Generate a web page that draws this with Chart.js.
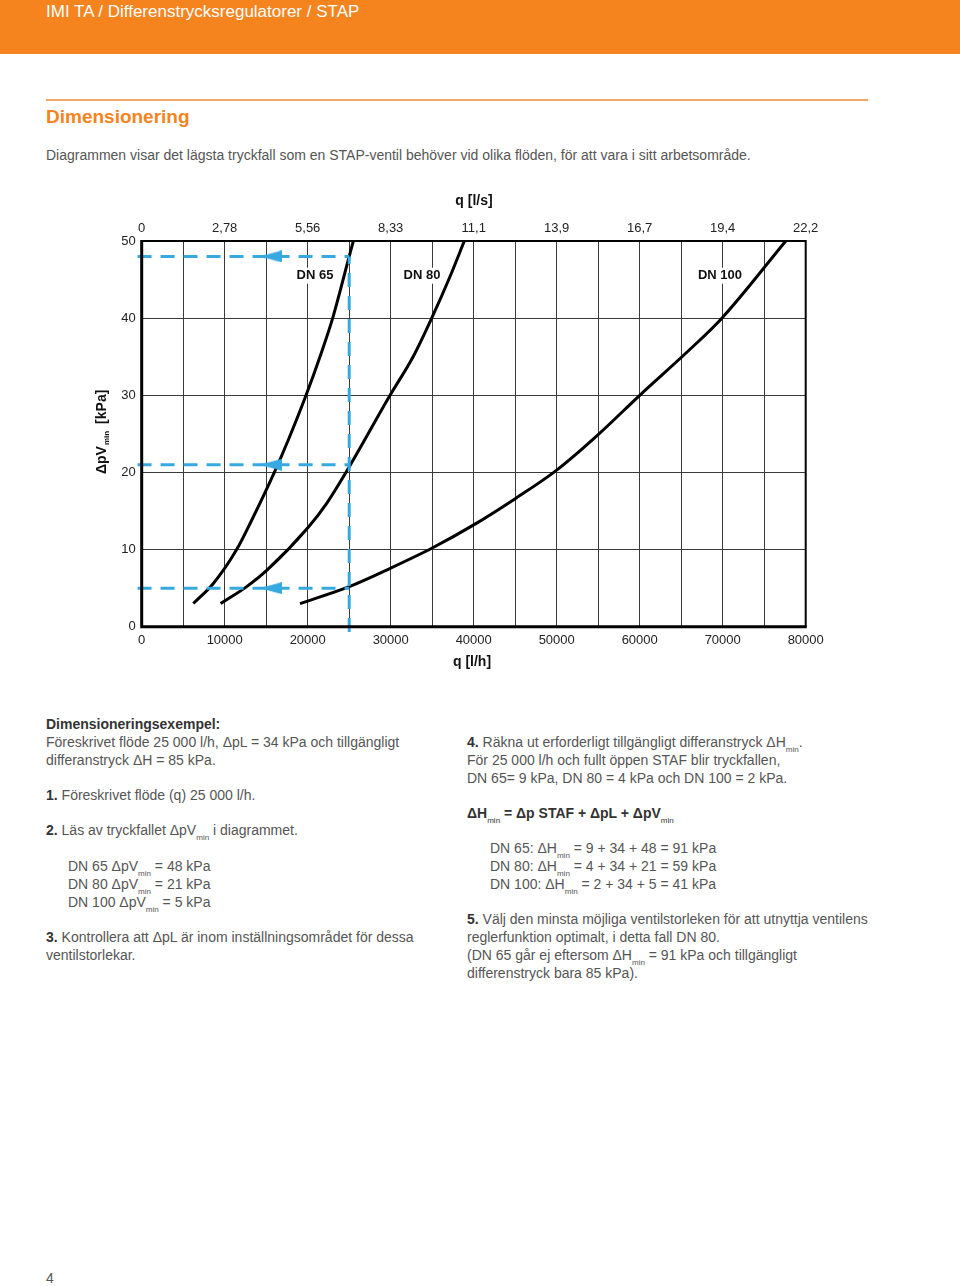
<!DOCTYPE html>
<html lang="sv">
<head>
<meta charset="utf-8">
<title>IMI TA / Differenstrycksregulatorer / STAP</title>
<script src="https://cdn.jsdelivr.net/npm/chart.js"></script>
<style>
  body { margin: 0; background: #fff; }
  #page { position: relative; width: 960px; height: 1286px; overflow: hidden; font-family: "Liberation Sans", Arial, sans-serif; color: #555; }
  #topbar { position: absolute; left: 0; top: 0; width: 960px; height: 54px; background: #f5841f; }
  #topbar span { position: absolute; left: 46px; top: 1px; font-size: 17px; color: #fff; line-height: 22px; }
  #rule { position: absolute; left: 46px; top: 99px; width: 822px; height: 2px; background: #f2a868; }
  #heading { position: absolute; left: 46px; top: 106px; font-size: 19px; font-weight: bold; color: #f5841f; line-height: 22px; }
  .ln { position: absolute; font-size: 14px; line-height: 18px; white-space: nowrap; }
  .ln b { color: #333; }
  .sub { font-size: 8px; position: relative; top: 5px; }
  #chartBox { position: absolute; left: 0; top: 170px; width: 960px; height: 520px; }
</style>
</head>
<body>
<div id="page">
  <div id="topbar"><span>IMI TA / Differenstrycksregulatorer / STAP</span></div>
  <div id="rule"></div>
  <div id="heading">Dimensionering</div>
  <div class="ln" style="left:46px;top:146px">Diagrammen visar det lägsta tryckfall som en STAP-ventil behöver vid olika flöden, för att vara i sitt arbetsområde.</div>

  <div id="chartBox"><canvas id="DpChart"></canvas></div>

  <div class="ln" style="left:46px;top:715px"><b>Dimensioneringsexempel:</b></div>
  <div class="ln" style="left:46px;top:733px">Föreskrivet flöde 25 000 l/h, ΔpL = 34 kPa och tillgängligt</div>
  <div class="ln" style="left:46px;top:751px">differanstryck ΔH = 85 kPa.</div>
  <div class="ln" style="left:46px;top:786px"><b>1.</b> Föreskrivet flöde (q) 25 000 l/h.</div>
  <div class="ln" style="left:46px;top:821px"><b>2.</b> Läs av tryckfallet ΔpV<span class="sub">min</span> i diagrammet.</div>
  <div class="ln" style="left:68px;top:857px">DN 65 ΔpV<span class="sub">min</span> = 48 kPa</div>
  <div class="ln" style="left:68px;top:875px">DN 80 ΔpV<span class="sub">min</span> = 21 kPa</div>
  <div class="ln" style="left:68px;top:893px">DN 100 ΔpV<span class="sub">min</span> = 5 kPa</div>
  <div class="ln" style="left:46px;top:928px"><b>3.</b> Kontrollera att ΔpL är inom inställningsområdet för dessa</div>
  <div class="ln" style="left:46px;top:946px">ventilstorlekar.</div>

  <div class="ln" style="left:467px;top:733px"><b>4.</b> Räkna ut erforderligt tillgängligt differanstryck ΔH<span class="sub">min</span>.</div>
  <div class="ln" style="left:467px;top:751px">För 25 000 l/h och fullt öppen STAF blir tryckfallen,</div>
  <div class="ln" style="left:467px;top:769px">DN 65= 9 kPa, DN 80 = 4 kPa och DN 100 = 2 kPa.</div>
  <div class="ln" style="left:467px;top:804px"><b>ΔH<span class="sub" style="font-weight:normal">min</span> = Δp STAF + ΔpL + ΔpV<span class="sub" style="font-weight:normal">min</span></b></div>
  <div class="ln" style="left:490px;top:839px">DN 65: ΔH<span class="sub">min</span> = 9 + 34 + 48 = 91 kPa</div>
  <div class="ln" style="left:490px;top:857px">DN 80: ΔH<span class="sub">min</span> = 4 + 34 + 21 = 59 kPa</div>
  <div class="ln" style="left:490px;top:875px">DN 100: ΔH<span class="sub">min</span> = 2 + 34 + 5 = 41 kPa</div>
  <div class="ln" style="left:467px;top:910px"><b>5.</b> Välj den minsta möjliga ventilstorleken för att utnyttja ventilens</div>
  <div class="ln" style="left:467px;top:928px">reglerfunktion optimalt, i detta fall DN 80.</div>
  <div class="ln" style="left:467px;top:946px">(DN 65 går ej eftersom ΔH<span class="sub">min</span> = 91 kPa och tillgängligt</div>
  <div class="ln" style="left:467px;top:964px">differenstryck bara 85 kPa).</div>

  <div class="ln" style="left:46px;top:1269px">4</div>
</div>

<script>
// flow q [l/h] and minimum pressure drop [kPa]
var dn65Q = [6220, 8630, 11440, 13250, 15980, 17660, 19800, 21480, 23010, 25000, 25500];
var dn65P = [3.0, 5.6, 10, 13.8, 20, 24.2, 30, 35, 40, 48, 50];
var dn80Q = [9510, 12650, 15060, 20070, 22290, 24610, 29920, 32700, 34940, 37150, 38870];
var dn80P = [3.0, 5.2, 7.3, 12.9, 16, 20, 30, 35, 40, 45.4, 50];
var dn100Q = [19070, 25000, 30000, 35000, 40000, 45000, 50000, 55000, 60000, 66000, 69900, 77600];
var dn100P = [3.0, 5.2, 7.6, 10.2, 13.2, 16.6, 20.3, 24.9, 30, 35.9, 40, 50];

// worked example: 25 000 l/h read across to each valve size
var exampleQ = 25000;
var exampleP = [48, 21, 5];
var arrowQ = 15560;

// tick labels
var lsLabels = ["0", "2,78", "5,56", "8,33", "11,1", "13,9", "16,7", "19,4", "22,2"];

// curve names and where they are written
var curveNames = ["DN 65", "DN 80", "DN 100"];
var nameQ = [20880, 33770, 69670];
var nameP = [45.5, 45.5, 45.5];

var blue = "#36a9e1";
var fontFam = '"Liberation Sans", Arial, sans-serif';

function toPoints(qs, ps) {
  var pts = [];
  for (var i = 0; i < qs.length; i++) {
    pts.push({ x: qs[i], y: ps[i] });
  }
  return pts;
}

// left pointing arrow head
var arrowImg = document.createElement("canvas");
arrowImg.width = 22;
arrowImg.height = 12;
var actx = arrowImg.getContext("2d");
actx.fillStyle = blue;
actx.beginPath();
actx.moveTo(0, 6);
actx.lineTo(22, 0);
actx.lineTo(22, 12);
actx.closePath();
actx.fill();

var datasets = [];

function curve(qs, ps) {
  return {
    data: toPoints(qs, ps),
    borderColor: "#000",
    borderWidth: 3,
    pointRadius: 0,
    cubicInterpolationMode: "monotone",
    order: 2,
  };
}

function dashed(pts) {
  return {
    data: pts,
    borderColor: blue,
    borderWidth: 3,
    borderDash: [14, 9],
    pointRadius: 0,
    clip: false,
    order: 1,
  };
}

datasets.push(dashed([{ x: exampleQ, y: -0.7 }, { x: exampleQ, y: exampleP[0] }]));
exampleP.forEach(function (p) {
  datasets.push(dashed([{ x: -500, y: p }, { x: exampleQ, y: p }]));
});
datasets.push({
  data: exampleP.map(function (p) { return { x: arrowQ, y: p }; }),
  showLine: false,
  pointStyle: arrowImg,
  pointRadius: 6,
  clip: false,
  order: 0,
});
datasets.push(curve(dn65Q, dn65P));
datasets.push(curve(dn80Q, dn80P));
datasets.push(curve(dn100Q, dn100P));

var extras = {
  id: "extras",
  afterDatasetsDraw: function (chart) {
    var ctx = chart.ctx;
    var a = chart.chartArea;
    var xs = chart.scales.x;
    var ys = chart.scales.y;

    // curve names on white
    ctx.save();
    ctx.font = "bold 13px " + fontFam;
    ctx.textAlign = "center";
    ctx.textBaseline = "middle";
    curveNames.forEach(function (name, i) {
      var px = xs.getPixelForValue(nameQ[i]);
      var py = ys.getPixelForValue(nameP[i]);
      var w = ctx.measureText(name).width;
      ctx.fillStyle = "#fff";
      ctx.fillRect(px - w / 2 - 3, py - 8, w + 6, 16);
      ctx.fillStyle = "#111";
      ctx.fillText(name, px, py);
    });
    ctx.restore();

    // frame
    ctx.save();
    ctx.strokeStyle = "#000";
    ctx.lineWidth = 2;
    ctx.beginPath();
    ctx.moveTo(a.left, a.top);
    ctx.lineTo(a.right, a.top);
    ctx.lineTo(a.right, a.bottom);
    ctx.stroke();
    ctx.lineWidth = 3;
    ctx.beginPath();
    ctx.moveTo(a.left, a.top - 1);
    ctx.lineTo(a.left, a.bottom);
    ctx.lineTo(a.right + 1, a.bottom);
    ctx.stroke();
    ctx.restore();
  },
  afterDraw: function (chart) {
    var ctx = chart.ctx;
    var a = chart.chartArea;
    ctx.save();
    ctx.fillStyle = "#111";
    ctx.font = "bold 14px " + fontFam;
    ctx.textAlign = "center";
    ctx.textBaseline = "middle";
    ctx.fillText("q [l/s]", 474, 31);
    ctx.fillText("q [l/h]", 472, 492);

    // y title with subscript, rotated
    var cy = (a.top + a.bottom) / 2 - 2;
    ctx.translate(102, cy);
    ctx.rotate(-Math.PI / 2);
    ctx.textAlign = "left";
    var t1 = "ΔpV";
    var t3 = "[kPa]";
    ctx.font = "bold 14px " + fontFam;
    var w1 = ctx.measureText(t1).width;
    var w3 = ctx.measureText(t3).width;
    ctx.font = "bold 8px " + fontFam;
    var w2 = ctx.measureText("min").width;
    var gap = 8;
    var total = w1 + w2 + gap + w3;
    var sx = -total / 2;
    ctx.font = "bold 14px " + fontFam;
    ctx.fillText(t1, sx, 0);
    ctx.font = "bold 8px " + fontFam;
    ctx.fillText("min", sx + w1 + 1, 5);
    ctx.font = "bold 14px " + fontFam;
    ctx.fillText(t3, sx + w1 + w2 + gap, 0);
    ctx.restore();
  },
};

Chart.defaults.font.family = fontFam;
Chart.defaults.font.size = 13;
Chart.defaults.color = "#222";

var ctx = document.getElementById("DpChart").getContext("2d");
var dpChart = new Chart(ctx, {
  type: "line",
  data: { datasets: datasets },
  options: {
    responsive: true,
    maintainAspectRatio: false,
    animation: false,
    layout: { padding: { left: 0, top: 0, right: 154.3, bottom: 0 } },
    plugins: {
      legend: { display: false },
      tooltip: { enabled: false },
    },
    scales: {
      x: {
        type: "linear",
        position: "bottom",
        min: 0,
        max: 80000,
        border: { display: false },
        grid: { color: "#3a3a3a", lineWidth: 1, drawTicks: false },
        ticks: {
          stepSize: 5000,
          autoSkip: false,
          maxRotation: 0,
          padding: 6,
          callback: function (value) {
            return value % 10000 === 0 ? String(value) : "";
          },
        },
        afterFit: function (scale) {
          scale.height = 63.3;
        },
      },
      x2: {
        type: "linear",
        position: "top",
        min: 0,
        max: 80000,
        border: { display: false },
        grid: { display: false },
        ticks: {
          stepSize: 10000,
          autoSkip: false,
          maxRotation: 0,
          padding: -3,
          callback: function (value, index) {
            return lsLabels[index];
          },
        },
        afterFit: function (scale) {
          scale.height = 71;
        },
      },
      y: {
        type: "linear",
        min: 0,
        max: 50,
        border: { display: false },
        grid: { color: "#3a3a3a", lineWidth: 1, drawTicks: false },
        ticks: { stepSize: 10, padding: 6 },
        afterFit: function (scale) {
          scale.width = 141.7;
        },
      },
    },
  },
  plugins: [extras],
});
</script>
</body>
</html>
